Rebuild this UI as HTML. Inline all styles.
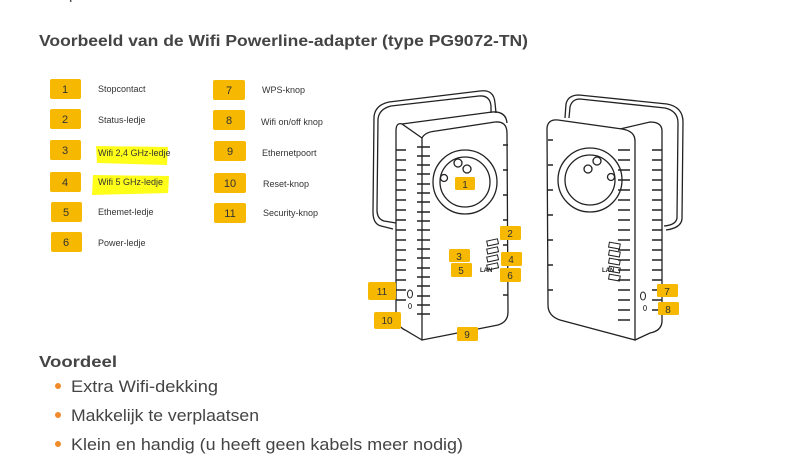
<!DOCTYPE html>
<html><head><meta charset="utf-8"><style>
html,body{margin:0;padding:0;background:#fff;}
body{width:790px;height:464px;overflow:hidden;position:relative;font-family:"Liberation Sans",sans-serif;}
</style></head><body>
<svg width="790" height="464" viewBox="0 0 790 464" xmlns="http://www.w3.org/2000/svg" style="position:absolute;left:0;top:0">
<text x="40" y="-1" font-family="Liberation Sans" font-size="15" fill="#555" textLength="72" lengthAdjust="spacingAndGlyphs">adapters.</text>
<text x="39" y="46" font-family="Liberation Sans" font-weight="bold" font-size="15.5" fill="#444" textLength="489" lengthAdjust="spacingAndGlyphs">Voorbeeld van de Wifi Powerline-adapter (type PG9072-TN)</text>
<!-- highlights -->
<path d="M96,146 L168,147 L167,165 L97,163 Z" fill="#ffff1a"/>
<path d="M93,175 L169,176 L168,193 L92,195 Z" fill="#ffff1a"/>
<g fill="#f6b800">
<rect x="50" y="79" width="31" height="20" rx="2"/><rect x="50" y="109" width="31" height="20" rx="2"/>
<rect x="50" y="140" width="31" height="20" rx="2"/><rect x="50" y="172" width="31" height="20" rx="2"/>
<rect x="51" y="202" width="31" height="20" rx="2"/><rect x="51" y="232" width="31" height="20" rx="2"/>
<rect x="213" y="80" width="32" height="20" rx="2"/><rect x="213" y="110" width="32" height="20" rx="2"/>
<rect x="214" y="141" width="32" height="20" rx="2"/><rect x="214" y="173" width="32" height="20" rx="2"/>
<rect x="214" y="203" width="32" height="20" rx="2"/>
</g>
<g font-family="Liberation Sans" font-size="11" fill="#333" text-anchor="middle">
<text x="65" y="93">1</text><text x="65" y="123">2</text><text x="65" y="154">3</text><text x="65" y="186">4</text><text x="66" y="216">5</text><text x="66" y="246">6</text>
<text x="229" y="94">7</text><text x="229" y="124">8</text><text x="230" y="155">9</text><text x="230" y="187">10</text><text x="230" y="217">11</text>
</g>
<g font-family="Liberation Sans" font-size="9" fill="#333">
<text x="98" y="92">Stopcontact</text><text x="98" y="123">Status-ledje</text><text x="98" y="156">Wifi 2,4 GHz-ledje</text>
<text x="98" y="185">Wifi 5 GHz-ledje</text><text x="98" y="215">Ethemet-ledje</text><text x="98" y="246">Power-ledje</text>
<text x="262" y="93">WPS-knop</text><text x="261" y="125">Wifi on/off  knop</text><text x="262" y="156">Ethernetpoort</text>
<text x="263" y="187">Reset-knop</text><text x="263" y="216">Security-knop</text>
</g>
<!-- left device -->
<g fill="none" stroke="#222" stroke-width="1.3">
<path d="M393,229 L381,226 Q373,224 373,212 L374,117 Q375,105 389,102 L480,91 Q494,89 495,103 L496,113"/>
<path d="M396,223 L384,221 Q377,219 377,210 L378,119 Q379,109 391,106 L479,96 Q490,95 491,106 L491,113"/>
<path d="M422,138 L402,124 Q396,122 396,131 L396,317 Q397,326 405,330 L422,340" fill="#fff"/>
<path d="M402,124 L492,112 Q506,111 507,123"/>
<path d="M422,138 Q425,132 436,131 L495,122 Q507,121 507,133 L508,312 Q508,322 498,325 L422,340 Z" fill="#fff"/>
<circle cx="465" cy="182" r="32"/><circle cx="465" cy="182" r="25"/>
<circle cx="467" cy="169" r="4"/><circle cx="458" cy="163" r="4"/><circle cx="444" cy="178" r="3.5"/>
<g stroke-width="1">
<rect x="487" y="240" width="11" height="5" transform="rotate(-12 492 242)"/>
<rect x="487" y="248" width="11" height="5" transform="rotate(-12 492 250)"/>
<rect x="487" y="256" width="11" height="5" transform="rotate(-12 492 258)"/>
<rect x="487" y="264" width="11" height="5" transform="rotate(-12 492 266)"/>
</g>
<ellipse cx="410" cy="294" rx="2.5" ry="4" stroke-width="1"/><ellipse cx="410" cy="306" rx="1.5" ry="2.5" stroke-width="0.8"/>
</g>
<g stroke="#222" stroke-width="1.4">
<path d="M396,150h10M396,160h10M396,170h10M396,180h10M396,190h10M396,200h10M396,210h10M396,220h10M396,230h10M396,240h10M396,250h10M396,260h10M396,270h10M396,280h10M396,290h10M396,300h10"/>
<path d="M417,147h13M417,156h13M417,165h13M417,174h13M417,184h13M417,193h13M417,202h13M417,212h13M417,221h13M417,230h13M417,240h13M417,249h13M417,258h13M417,268h13M417,277h13M417,286h13M417,296h13M417,305h13M417,314h13"/>
<path d="M503,145h5M503,170h5M503,195h5M503,220h5M503,245h5M503,270h5M503,295h5"/>
</g>
<text x="480" y="272" font-family="Liberation Sans" font-size="6" font-weight="bold" fill="#222">LAN</text>
<!-- right device -->
<g fill="none" stroke="#222" stroke-width="1.3">
<path d="M565,118 L566,104 Q568,95 579,95 L667,104 Q683,107 683,122 L682,219 Q681,228 666,230"/>
<path d="M569,118 L570,107 Q572,99 580,99 L665,108 Q678,111 678,123 L677,218 Q676,225 664,226"/>
<path d="M620,129 L650,122 Q662,122 662,131 L662,322 Q661,331 650,333 L635,340" fill="#fff"/>
<path d="M547,128 Q548,119 558,120 L622,129 Q635,131 635,141 L635,340 L560,320 Q548,316 548,305 Z" fill="#fff"/>
<circle cx="590" cy="180" r="32"/><circle cx="590" cy="180" r="25"/>
<circle cx="597" cy="161" r="4"/><circle cx="588" cy="169" r="4"/><circle cx="611" cy="177" r="3.5"/>
<g stroke-width="1">
<rect x="609" y="243" width="11" height="5" transform="rotate(10 614 245)"/>
<rect x="609" y="251" width="11" height="5" transform="rotate(10 614 253)"/>
<rect x="609" y="259" width="11" height="5" transform="rotate(10 614 261)"/>
<rect x="609" y="267" width="11" height="5" transform="rotate(10 614 269)"/>
<rect x="609" y="275" width="11" height="5" transform="rotate(10 614 277)"/>
</g>
<ellipse cx="643" cy="296" rx="2.5" ry="4" stroke-width="1"/><ellipse cx="645" cy="308" rx="1.5" ry="2.5" stroke-width="0.8"/>
</g>
<g stroke="#222" stroke-width="1.4">
<path d="M548,140h5M548,165h5M548,190h5M548,215h5M548,240h5M548,265h5M548,290h5"/>
<path d="M630,150h-12M630,160h-12M630,170h-12M630,180h-12M630,190h-12M630,200h-12M630,210h-12M630,220h-12M630,230h-12M630,240h-12M630,250h-12M630,260h-12M630,270h-12M630,280h-12M630,290h-12M630,300h-12M630,310h-12M630,320h-12"/>
<path d="M662,150h-10M662,160h-10M662,170h-10M662,180h-10M662,190h-10M662,200h-10M662,210h-10M662,220h-10M662,230h-10M662,240h-10M662,250h-10M662,260h-10M662,270h-10M662,280h-10M662,290h-10M662,300h-10M662,310h-10"/>
</g>
<text x="602" y="272" font-family="Liberation Sans" font-size="6" font-weight="bold" fill="#222">LAN</text>
<!-- device badges -->
<g fill="#f6b800">
<rect x="455" y="177" width="20" height="13" rx="1.5"/><rect x="500" y="226" width="21" height="14" rx="1.5"/>
<rect x="449" y="249" width="21" height="13" rx="1.5"/><rect x="501" y="252" width="21" height="14" rx="1.5"/>
<rect x="451" y="263" width="21" height="14" rx="1.5"/><rect x="500" y="268" width="21" height="14" rx="1.5"/>
<rect x="368" y="282" width="28" height="18" rx="2"/><rect x="374" y="312" width="27" height="17" rx="2"/>
<rect x="457" y="327" width="21" height="14" rx="1.5"/>
<rect x="657" y="284" width="21" height="13" rx="1.5"/><rect x="658" y="302" width="21" height="13" rx="1.5"/>
</g>
<g font-family="Liberation Sans" font-size="10" fill="#333" text-anchor="middle">
<text x="465" y="188">1</text><text x="510" y="237">2</text><text x="459" y="260">3</text><text x="511" y="263">4</text>
<text x="461" y="274">5</text><text x="510" y="279">6</text><text x="382" y="295">11</text><text x="387" y="324">10</text>
<text x="467" y="338">9</text><text x="667" y="295">7</text><text x="668" y="313">8</text>
</g>
<!-- bottom -->
<text x="39" y="367" font-family="Liberation Sans" font-weight="bold" font-size="15.5" fill="#444" textLength="78" lengthAdjust="spacingAndGlyphs">Voordeel</text>
<g fill="#f08a2a"><circle cx="58" cy="386" r="3"/><circle cx="58" cy="415" r="3"/><circle cx="58" cy="444" r="3"/></g>
<g font-family="Liberation Sans" font-size="17" fill="#444">
<text x="71" y="392" textLength="147" lengthAdjust="spacingAndGlyphs">Extra Wifi-dekking</text>
<text x="71" y="421" textLength="188" lengthAdjust="spacingAndGlyphs">Makkelijk te verplaatsen</text>
<text x="71" y="450" textLength="392" lengthAdjust="spacingAndGlyphs">Klein en handig (u heeft geen kabels meer nodig)</text>
</g>
</svg>
</body></html>
